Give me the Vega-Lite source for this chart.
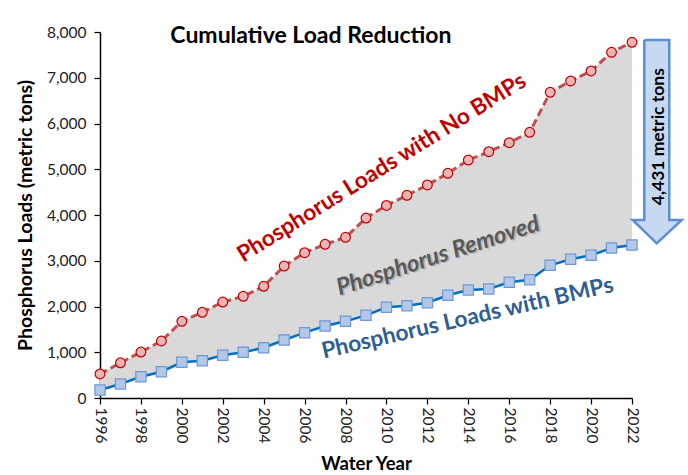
{
  "$schema": "https://vega.github.io/schema/vega-lite/v6.json",
  "width": 532,
  "height": 366,
  "autosize": "none",
  "padding": {"left": 100, "top": 32, "right": 56, "bottom": 77},
  "background": "white",
  "config": {"view": {"stroke": null}, "font": "Lato"},
  "datasets": {
    "loads": [
      {"year": 1996, "nobmp": 525, "bmp": 175},
      {"year": 1997, "nobmp": 770, "bmp": 306},
      {"year": 1998, "nobmp": 1005, "bmp": 466},
      {"year": 1999, "nobmp": 1246, "bmp": 575},
      {"year": 2000, "nobmp": 1676, "bmp": 780},
      {"year": 2001, "nobmp": 1873, "bmp": 815},
      {"year": 2002, "nobmp": 2098, "bmp": 933},
      {"year": 2003, "nobmp": 2223, "bmp": 999},
      {"year": 2004, "nobmp": 2441, "bmp": 1100},
      {"year": 2005, "nobmp": 2885, "bmp": 1268},
      {"year": 2006, "nobmp": 3176, "bmp": 1428},
      {"year": 2007, "nobmp": 3359, "bmp": 1574},
      {"year": 2008, "nobmp": 3512, "bmp": 1676},
      {"year": 2009, "nobmp": 3934, "bmp": 1807},
      {"year": 2010, "nobmp": 4208, "bmp": 1982},
      {"year": 2011, "nobmp": 4430, "bmp": 2018},
      {"year": 2012, "nobmp": 4656, "bmp": 2083},
      {"year": 2013, "nobmp": 4911, "bmp": 2245},
      {"year": 2014, "nobmp": 5202, "bmp": 2361},
      {"year": 2015, "nobmp": 5384, "bmp": 2383},
      {"year": 2016, "nobmp": 5580, "bmp": 2528},
      {"year": 2017, "nobmp": 5808, "bmp": 2586},
      {"year": 2018, "nobmp": 6682, "bmp": 2900},
      {"year": 2019, "nobmp": 6929, "bmp": 3032},
      {"year": 2020, "nobmp": 7148, "bmp": 3119},
      {"year": 2021, "nobmp": 7556, "bmp": 3279},
      {"year": 2022, "nobmp": 7775, "bmp": 3344}
    ],
    "arrow": [
      {"i": 0, "x": 2022.6, "y": 7825},
      {"i": 1, "x": 2023.82, "y": 7825},
      {"i": 2, "x": 2023.82, "y": 3891},
      {"i": 3, "x": 2024.43, "y": 3891},
      {"i": 4, "x": 2023.21, "y": 3381},
      {"i": 5, "x": 2022.03, "y": 3891},
      {"i": 6, "x": 2022.6, "y": 3891},
      {"i": 7, "x": 2022.6, "y": 7825}
    ]
  },
  "layer": [
    {
      "data": {"name": "loads"},
      "mark": {"type": "area", "color": "#d9d9d9", "opacity": 1},
      "encoding": {
        "x": {
          "field": "year", "type": "quantitative",
          "scale": {"domain": [1996, 2022], "nice": false, "zero": false},
          "title": "Water Year",
          "axis": {
            "values": [1996,1997,1998,1999,2000,2001,2002,2003,2004,2005,2006,2007,2008,2009,2010,2011,2012,2013,2014,2015,2016,2017,2018,2019,2020,2021,2022],
            "labelExpr": "datum.value % 2 == 0 ? datum.value : ''",
            "labelAngle": 90, "labelAlign": "left", "labelBaseline": "middle",
            "labelFontSize": 15.5, "labelColor": "#222", "labelPadding": 3,
            "labelOverlap": false, "labelFlush": false,
            "grid": false, "domainColor": "#000", "domainWidth": 1.5,
            "tickColor": "#000", "tickWidth": 1.2, "tickSize": 6,
            "titleFontSize": 18.5, "titleFontWeight": "bold", "titleColor": "#000", "titlePadding": 12
          }
        },
        "y": {
          "field": "nobmp", "type": "quantitative",
          "scale": {"domain": [0, 8000], "nice": false},
          "title": "Phosphorus  Loads (metric tons)",
          "axis": {
            "values": [0,1000,2000,3000,4000,5000,6000,7000,8000],
            "labelExpr": "format(datum.value, ',.0f')",
            "labelFontSize": 15.5, "labelColor": "#222", "labelPadding": 8,
            "grid": false, "domainColor": "#000", "domainWidth": 1.5,
            "tickColor": "#000", "tickWidth": 1.2, "tickSize": 6,
            "titleFontSize": 19.5, "titleFontWeight": "bold", "titleColor": "#000", "titlePadding": 11
          }
        },
        "y2": {"field": "bmp"}
      }
    },
    {
      "data": {"name": "loads"},
      "mark": {"type": "line", "color": "#c0504d", "strokeWidth": 3, "strokeDash": [8, 4]},
      "encoding": {
        "x": {"field": "year", "type": "quantitative", "title": "Water Year"},
        "y": {"field": "nobmp", "type": "quantitative", "title": "Phosphorus  Loads (metric tons)"}
      }
    },
    {
      "data": {"name": "loads"},
      "mark": {"type": "point", "shape": "circle", "filled": true, "fill": "#ebb5b5", "stroke": "#c00000", "strokeWidth": 1.2, "size": 95, "opacity": 1},
      "encoding": {
        "x": {"field": "year", "type": "quantitative", "title": "Water Year"},
        "y": {"field": "nobmp", "type": "quantitative", "title": "Phosphorus  Loads (metric tons)"}
      }
    },
    {
      "data": {"name": "loads"},
      "mark": {"type": "line", "color": "#0070c0", "strokeWidth": 2.5},
      "encoding": {
        "x": {"field": "year", "type": "quantitative", "title": "Water Year"},
        "y": {"field": "bmp", "type": "quantitative", "title": "Phosphorus  Loads (metric tons)"}
      }
    },
    {
      "data": {"name": "loads"},
      "mark": {"type": "point", "shape": "square", "filled": true, "fill": "#b4c7e7", "stroke": "#6a9ad6", "strokeWidth": 1.2, "size": 105, "opacity": 1},
      "encoding": {
        "x": {"field": "year", "type": "quantitative", "title": "Water Year"},
        "y": {"field": "bmp", "type": "quantitative", "title": "Phosphorus  Loads (metric tons)"}
      }
    },
    {
      "data": {"values": [{"x": 2006.31, "y": 7766, "label": "Cumulative Load Reduction"}]},
      "mark": {"type": "text", "fontSize": 23, "fontWeight": "bold", "color": "#000", "align": "center", "baseline": "alphabetic"},
      "encoding": {
        "x": {"field": "x", "type": "quantitative", "title": "Water Year"},
        "y": {"field": "y", "type": "quantitative", "title": "Phosphorus  Loads (metric tons)"},
        "text": {"field": "label"}
      }
    },
    {
      "data": {"values": [{"x": 2009.95, "y": 4900, "label": "Phosphorus Loads with No BMPs"}]},
      "mark": {"type": "text", "fontSize": 22.7, "fontWeight": "bold", "color": "#c00000", "align": "center", "baseline": "alphabetic", "angle": -32},
      "encoding": {
        "x": {"field": "x", "type": "quantitative", "title": "Water Year"},
        "y": {"field": "y", "type": "quantitative", "title": "Phosphorus  Loads (metric tons)"},
        "text": {"field": "label"}
      }
    },
    {
      "data": {"values": [{"x": 2012.63, "y": 2955, "label": "Phosphorus Removed"}]},
      "mark": {"type": "text", "fontSize": 23.5, "fontWeight": "bold", "fontStyle": "italic", "color": "#9a9a9a", "opacity": 0.6, "align": "center", "baseline": "alphabetic", "angle": -18, "dx": 1.5, "dy": 1.5},
      "encoding": {
        "x": {"field": "x", "type": "quantitative", "title": "Water Year"},
        "y": {"field": "y", "type": "quantitative", "title": "Phosphorus  Loads (metric tons)"},
        "text": {"field": "label"}
      }
    },
    {
      "data": {"values": [{"x": 2012.63, "y": 2955, "label": "Phosphorus Removed"}]},
      "mark": {"type": "text", "fontSize": 23.5, "fontWeight": "bold", "fontStyle": "italic", "color": "#595959", "align": "center", "baseline": "alphabetic", "angle": -18},
      "encoding": {
        "x": {"field": "x", "type": "quantitative", "title": "Water Year"},
        "y": {"field": "y", "type": "quantitative", "title": "Phosphorus  Loads (metric tons)"},
        "text": {"field": "label"}
      }
    },
    {
      "data": {"values": [{"x": 2014.04, "y": 1596, "label": "Phosphorus Loads with BMPs"}]},
      "mark": {"type": "text", "fontSize": 22.6, "fontWeight": "bold", "color": "#2f5d94", "align": "center", "baseline": "alphabetic", "angle": -13},
      "encoding": {
        "x": {"field": "x", "type": "quantitative", "title": "Water Year"},
        "y": {"field": "y", "type": "quantitative", "title": "Phosphorus  Loads (metric tons)"},
        "text": {"field": "label"}
      }
    },
    {
      "data": {"name": "arrow"},
      "mark": {"type": "line", "fill": "#c6d9f0", "stroke": "#5b8fd1", "strokeWidth": 2.5, "clip": false},
      "encoding": {
        "x": {"field": "x", "type": "quantitative", "title": "Water Year"},
        "y": {"field": "y", "type": "quantitative", "title": "Phosphorus  Loads (metric tons)"},
        "order": {"field": "i", "type": "quantitative"}
      }
    },
    {
      "data": {"values": [{"x": 2023.33, "y": 5711, "label": "4,431 metric tons"}]},
      "mark": {"type": "text", "fontSize": 17.5, "fontWeight": "bold", "color": "#000", "align": "center", "baseline": "middle", "angle": -90},
      "encoding": {
        "x": {"field": "x", "type": "quantitative", "title": "Water Year"},
        "y": {"field": "y", "type": "quantitative", "title": "Phosphorus  Loads (metric tons)"},
        "text": {"field": "label"}
      }
    }
  ]
}
